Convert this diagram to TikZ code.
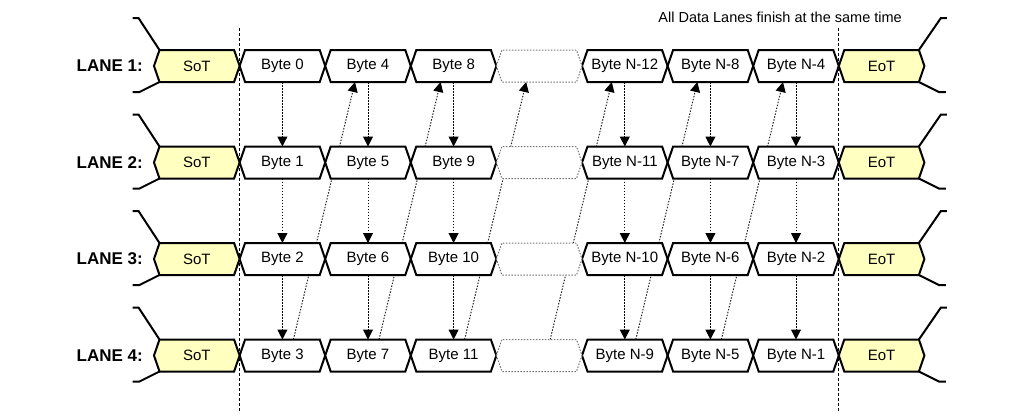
\documentclass[tikz,border=0pt]{standalone}
\usepackage{fontspec}
\setmainfont{Liberation Sans}
\usetikzlibrary{arrows.meta,calc}
\pgfdeclarelayer{bg}
\pgfdeclarelayer{boxes}
\pgfsetlayers{bg,boxes,main}
\definecolor{sotfill}{RGB}{255,255,192}
\newcommand\hexpath[2]{\path[#2] (#1.west) -- ([xshift=5.5pt]#1.north west) -- ([xshift=-5.5pt]#1.north east) -- (#1.east) -- ([xshift=-5.5pt]#1.south east) -- ([xshift=5.5pt]#1.south west) -- cycle;}
\newcommand\lanerow[8]{%
  \node[lanelabel] (lab#1) at (143,#2) {LANE #1:};
  \node[cell] (n#1-0) at (196.8,#2) {SoT};
  \node[cell] (n#1-1) at (282.4,#2) {#3};
  \node[cell] (n#1-2) at (368.0,#2) {#4};
  \node[cell] (n#1-3) at (453.6,#2) {#5};
  \node[cell] (n#1-4) at (539.2,#2) {};
  \node[cell] (n#1-5) at (624.8,#2) {#6};
  \node[cell] (n#1-6) at (710.4,#2) {#7};
  \node[cell] (n#1-7) at (796.0,#2) {#8};
  \node[cell] (n#1-8) at (881.6,#2) {EoT};
}
\begin{document}
\begin{tikzpicture}[x=1pt,y=-1pt,
  cell/.style={minimum width=85.6pt,minimum height=32pt,inner sep=0pt,outer sep=0pt,font=\fontsize{15}{17}\selectfont},
  hexline/.style={draw=black,line width=2pt,fill=white},
  hexend/.style={draw=black,line width=2pt,fill=sotfill},
  hexdot/.style={draw=black!55,line width=1pt,dash pattern=on 1.5pt off 1.5pt,fill=white},
  tail/.style={line width=2pt},
  varrow/.style={line width=1pt,dash pattern=on 1.5pt off 1.5pt,-{Triangle[length=10pt,width=10pt]}},
  darrow/.style={black!85,line width=1pt,dash pattern=on 1.5pt off 1.5pt,-{Triangle[length=10pt,width=10pt,color=black]}},
  lanelabel/.style={anchor=east,font=\fontsize{17}{19}\selectfont\bfseries,inner sep=0pt},
  guide/.style={line width=1pt,dash pattern=on 3pt off 2pt},
  titletext/.style={anchor=east,inner sep=0pt,font=\fontsize{14.5}{17}\selectfont}
]
\useasboundingbox (0,0) rectangle (1021,413);

\lanerow{1}{66}{Byte 0}{Byte 4}{Byte 8}{Byte N-12}{Byte N-8}{Byte N-4}
\lanerow{2}{162.5}{Byte 1}{Byte 5}{Byte 9}{Byte N-11}{Byte N-7}{Byte N-3}
\lanerow{3}{259}{Byte 2}{Byte 6}{Byte 10}{Byte N-10}{Byte N-6}{Byte N-2}
\lanerow{4}{355.5}{Byte 3}{Byte 7}{Byte 11}{Byte N-9}{Byte N-5}{Byte N-1}

\node[titletext] (title) at (902,17) {All Data Lanes finish at the same time};

% diagonal arrows (behind boxes)
\begin{pgfonlayer}{bg}
\foreach \c/\d in {1/2,2/3,3/4,4/5,5/6,6/7}{
  \draw[darrow] ([xshift=11pt]n4-\c.north) -- ([xshift=-13pt]n1-\d.south);
}
\end{pgfonlayer}

% boxes
\begin{pgfonlayer}{boxes}
\foreach \l in {1,2,3,4}{
  \foreach \c in {1,2,3,5,6,7}{\hexpath{n\l-\c}{hexline}}
  \hexpath{n\l-4}{hexdot}
  \hexpath{n\l-0}{hexend}
  \hexpath{n\l-8}{hexend}
  \draw[tail] ([xshift=5.5pt]n\l-0.north west) -- ++(-21,-32) -- ++(-6,0);
  \draw[tail] ([xshift=5.5pt]n\l-0.south west) -- ++(-20,10) -- ++(-7,0);
  \draw[tail] ([xshift=-5.5pt]n\l-8.north east) -- ++(22,-32) -- ++(6,0);
  \draw[tail] ([xshift=-5.5pt]n\l-8.south east) -- ++(20,10) -- ++(7,0);
}
\end{pgfonlayer}

% vertical arrows
\foreach \l/\m in {1/2,2/3,3/4}{
  \foreach \c in {1,2,3,5,6,7}{
    \draw[varrow] (n\l-\c.south) -- (n\m-\c.north);
  }
}

% guide lines
\coordinate (gA) at (239.6,28);
\coordinate (gB) at (838.8,28);
\draw[guide] (gA) -- (239.6,413);
\draw[guide] (gB) -- (838.8,413);
\end{tikzpicture}
\end{document}
